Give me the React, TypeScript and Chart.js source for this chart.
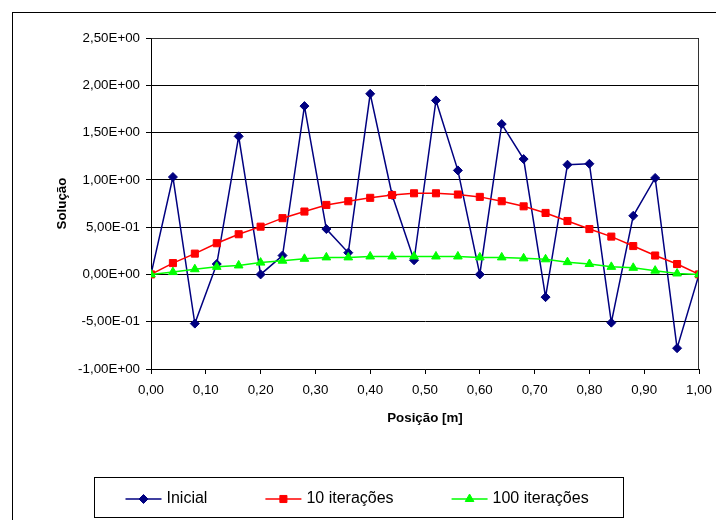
import React, { useEffect, useRef } from "react";
import { Chart, registerables } from "chart.js";

Chart.register(...registerables);

const positions = [0, 0.04, 0.08, 0.12, 0.16, 0.2, 0.24, 0.28, 0.32, 0.36, 0.4, 0.44, 0.48, 0.52, 0.56, 0.6, 0.64, 0.68, 0.72, 0.76, 0.8, 0.84, 0.88, 0.92, 0.96, 1.0];
const inicial = [0, 1.03, -0.52, 0.11, 1.46, 0.0, 0.2, 1.78, 0.48, 0.23, 1.91, 0.84, 0.15, 1.84, 1.1, 0.0, 1.59, 1.22, -0.24, 1.16, 1.17, -0.51, 0.62, 1.02, -0.78, 0];
const iter10 = [0, 0.12, 0.22, 0.33, 0.425, 0.505, 0.595, 0.665, 0.735, 0.774, 0.81, 0.84, 0.858, 0.858, 0.845, 0.82, 0.774, 0.72, 0.65, 0.565, 0.48, 0.4, 0.3, 0.2, 0.11, 0];
const iter100 = [0, 0.025, 0.055, 0.08, 0.095, 0.125, 0.145, 0.165, 0.18, 0.18, 0.19, 0.19, 0.19, 0.19, 0.19, 0.18, 0.18, 0.17, 0.16, 0.13, 0.11, 0.08, 0.07, 0.04, 0.01, 0];
const seriesNames = ["Inicial", "10 iterações", "100 iterações"];
const xTitle = "Posição [m]";
const yTitle = "Solução";

const FONT = "'Liberation Sans', Arial, sans-serif";

function sci(v: number): string {
  if (Math.abs(v) < 1e-12) v = 0;
  const [m, e] = v.toExponential(2).split("e");
  const en = parseInt(e, 10);
  return m.replace(".", ",") + "E" + (en < 0 ? "-" : "+") + String(Math.abs(en)).padStart(2, "0");
}

function drawMarker(ctx: CanvasRenderingContext2D, style: string, x: number, y: number, r: number, color: string) {
  ctx.save();
  ctx.fillStyle = color;
  ctx.strokeStyle = color;
  ctx.lineWidth = 1;
  ctx.beginPath();
  if (style === "rectRot") {
    ctx.moveTo(x - r, y);
    ctx.lineTo(x, y - r);
    ctx.lineTo(x + r, y);
    ctx.lineTo(x, y + r);
    ctx.closePath();
  } else if (style === "rect") {
    const s = Math.SQRT1_2 * r;
    ctx.rect(x - s, y - s, 2 * s, 2 * s);
  } else if (style === "triangle") {
    const a = (2 * Math.PI) / 3;
    ctx.moveTo(x, y - r);
    ctx.lineTo(x + Math.sin(a) * r, y - Math.cos(a) * r);
    ctx.lineTo(x + Math.sin(2 * a) * r, y - Math.cos(2 * a) * r);
    ctx.closePath();
  }
  ctx.fill();
  ctx.stroke();
  ctx.restore();
}

const framePlugin = {
  id: "frameAndLegend",
  beforeDraw(chart: any) {
    const ctx = chart.ctx;
    ctx.save();
    ctx.fillStyle = "#fff";
    ctx.fillRect(0, 0, chart.width, chart.height);
    ctx.strokeStyle = "#000";
    ctx.lineWidth = 1;
    ctx.strokeRect(12.5, 12.5, chart.width + 20, chart.height + 20);
    ctx.restore();
  },
  afterDraw(chart: any) {
    const ctx = chart.ctx;
    const a = chart.chartArea;
    ctx.save();
    ctx.strokeStyle = "#333";
    ctx.lineWidth = 1;
    ctx.beginPath();
    ctx.moveTo(Math.round(a.left) + 0.5, Math.round(a.top) + 0.5);
    ctx.lineTo(Math.round(a.right) - 0.5, Math.round(a.top) + 0.5);
    ctx.lineTo(Math.round(a.right) - 0.5, Math.round(a.bottom) + 0.5);
    ctx.stroke();

    // legend
    ctx.font = "16px " + FONT;
    const lineLen = 36;
    const textGap = 5;
    const itemGap = 58;
    const inner = 31;
    const ds = chart.data.datasets;
    const widths = ds.map((d: any) => lineLen + textGap + ctx.measureText(d.label).width);
    const content = widths.reduce((s: number, w: number) => s + w, 0) + itemGap * (ds.length - 1);
    const boxW = Math.round(content + 2 * inner + 4);
    const boxX = Math.round(chart.width / 2 - boxW / 2) + 0.5;
    const boxY = 477.5;
    const boxH = 40;
    ctx.strokeStyle = "#000";
    ctx.strokeRect(boxX, boxY, boxW, boxH);
    let x = boxX + inner;
    const cy = 499;
    ds.forEach((d: any, i: number) => {
      ctx.strokeStyle = d.borderColor;
      ctx.lineWidth = 1.5;
      ctx.beginPath();
      ctx.moveTo(x, cy);
      ctx.lineTo(x + lineLen, cy);
      ctx.stroke();
      drawMarker(ctx, d.pointStyle, x + lineLen / 2, cy, d.pointRadius, d.pointBackgroundColor);
      ctx.fillStyle = "#000";
      ctx.textBaseline = "middle";
      ctx.textAlign = "left";
      ctx.fillText(d.label, x + lineLen + textGap, cy);
      x += widths[i] + itemGap;
    });
    ctx.restore();
  },
};

export default function App() {
  const ref = useRef<HTMLCanvasElement | null>(null);
  useEffect(() => {
    if (!ref.current) return;
    const mk = (vals: number[]) => positions.map((p, i) => ({ x: p, y: vals[i] }));
    const chart = new Chart(ref.current, {
      type: "line",
      data: {
        datasets: [
          {
            label: seriesNames[0],
            data: mk(inicial),
            borderColor: "#000080",
            backgroundColor: "#000080",
            pointBackgroundColor: "#000080",
            pointBorderColor: "#000080",
            pointStyle: "rectRot",
            pointRadius: 4.5,
            pointBorderWidth: 1,
            borderWidth: 1.5,
            tension: 0,
            order: 3,
          },
          {
            label: seriesNames[1],
            data: mk(iter10),
            borderColor: "#ff0000",
            backgroundColor: "#ff0000",
            pointBackgroundColor: "#ff0000",
            pointBorderColor: "#ff0000",
            pointStyle: "rect",
            pointRadius: 5,
            pointBorderWidth: 1,
            borderWidth: 1.5,
            tension: 0,
            order: 2,
          },
          {
            label: seriesNames[2],
            data: mk(iter100),
            borderColor: "#00ff00",
            backgroundColor: "#00ff00",
            pointBackgroundColor: "#00ff00",
            pointBorderColor: "#00ff00",
            pointStyle: "triangle",
            pointRadius: 5,
            pointBorderWidth: 1,
            borderWidth: 1.5,
            tension: 0,
            order: 1,
          },
        ],
      },
      options: {
        animation: false,
        responsive: false,
        maintainAspectRatio: false,
        layout: { padding: { left: 0, top: 38, right: 17, bottom: 0 } },
        plugins: { legend: { display: false }, tooltip: { enabled: false } },
        scales: {
          x: {
            type: "linear",
            min: 0,
            max: 1,
            afterFit: (s: any) => {
              s.height = 151;
              s.paddingLeft = 0;
              s.paddingRight = 0;
            },
            ticks: {
              stepSize: 0.1,
              color: "#000",
              padding: 8,
              maxRotation: 0,
              font: { family: FONT, size: 13.33 },
              callback: (v: any) => Number(v).toFixed(2).replace(".", ","),
            },
            grid: { drawOnChartArea: false, drawTicks: true, tickLength: 5, color: "#000" },
            border: { display: true, color: "#000" },
            title: {
              display: true,
              text: xTitle,
              color: "#000",
              font: { family: FONT, size: 13.33, weight: "bold" },
              padding: { top: 0, bottom: 94 },
            },
          },
          y: {
            min: -1,
            max: 2.5,
            afterFit: (s: any) => {
              s.width = 151;
              s.paddingTop = 0;
              s.paddingBottom = 0;
            },
            ticks: {
              stepSize: 0.5,
              color: "#000",
              padding: 6,
              font: { family: FONT, size: 13.33 },
              callback: (v: any) => sci(Number(v)),
            },
            grid: { drawOnChartArea: true, drawTicks: true, tickLength: 5, color: "#000" },
            border: { display: true, color: "#000" },
            title: {
              display: true,
              text: yTitle,
              color: "#000",
              font: { family: FONT, size: 13.33, weight: "bold" },
              padding: { top: 54, bottom: 0 },
            },
          },
        },
      },
      plugins: [framePlugin],
    });
    return () => chart.destroy();
  }, []);
  return (
    <div style={{ position: "absolute", left: 0, top: 0, width: 716, height: 520 }}>
      <canvas ref={ref} width={716} height={520} style={{ display: "block" }} />
    </div>
  );
}
